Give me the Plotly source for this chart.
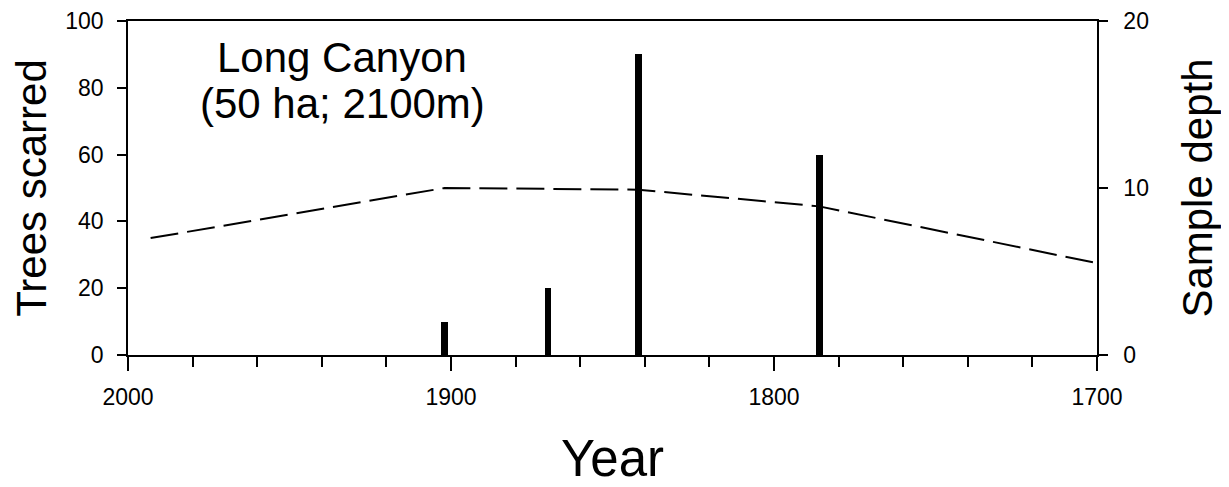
import plotly.graph_objects as go

# Fire-scar data (Trees scarred, %)
fire_years = [1902, 1870, 1842, 1786]
trees_scarred = [10, 20, 90, 60]

# Sample depth (number of trees)
depth_years = [1993, 1902, 1842, 1786, 1700]
sample_depth = [7, 10, 9.9, 8.9, 5.5]

x_major_ticks = [2000, 1900, 1800, 1700]
x_minor_ticks = list(range(1700, 2001, 20))

FONT = "Liberation Sans, Arial, Helvetica, sans-serif"

fig = go.Figure()
fig.add_trace(go.Bar(
    x=fire_years, y=trees_scarred, width=2.1,
    marker=dict(color="black", line=dict(width=0)),
    yaxis="y", showlegend=False,
))
fig.add_trace(go.Scatter(
    x=depth_years, y=sample_depth, mode="lines",
    line=dict(color="black", width=2, dash="28px,9px"),
    yaxis="y2", showlegend=False,
))

fig.add_annotation(text="Long Canyon", xref="paper", yref="paper",
                   x=0.221, y=0.891, showarrow=False,
                   font=dict(family=FONT, size=42, color="black"),
                   xanchor="center", yanchor="middle")
fig.add_annotation(text="(50 ha; 2100m)", xref="paper", yref="paper",
                   x=0.221, y=0.752, showarrow=False,
                   font=dict(family=FONT, size=42, color="black"),
                   xanchor="center", yanchor="middle")

# page body has an 8px margin: margins compensate so the plot area sits
# at x 128..1097, y 21..355 in the window
fig.update_layout(
    width=1229, height=487,
    margin=dict(l=120, r=140, t=13, b=140),
    plot_bgcolor="white", paper_bgcolor="white",
    font=dict(family=FONT, color="black"),
    bargap=0,
    xaxis=dict(
        range=[2000, 1700], tickvals=x_major_ticks, automargin=False,
        ticks="outside", ticklen=14, tickwidth=1.5, tickcolor="black",
        ticklabelstandoff=7,
        minor=dict(tickvals=x_minor_ticks, ticks="outside", ticklen=10,
                   tickwidth=1.5, tickcolor="black"),
        showline=True, linecolor="black", linewidth=1.5, mirror=True,
        showgrid=False, zeroline=False,
        tickfont=dict(size=23),
        title=dict(text="Year", font=dict(size=51), standoff=31),
    ),
    yaxis=dict(
        range=[0, 100], dtick=20, automargin=False,
        ticks="outside", ticklen=9, tickwidth=1.5, tickcolor="black",
        ticklabelstandoff=9,
        showline=True, linecolor="black", linewidth=1.5,
        showgrid=False, zeroline=False,
        tickfont=dict(size=23),
        title=dict(text="Trees scarred", font=dict(size=42), standoff=16),
    ),
    yaxis2=dict(
        range=[0, 20], dtick=10, overlaying="y", side="right", automargin=False,
        ticks="outside", ticklen=9, tickwidth=1.5, tickcolor="black",
        ticklabelstandoff=11,
        showline=True, linecolor="black", linewidth=1.5,
        showgrid=False, zeroline=False,
        tickfont=dict(size=23),
        title=dict(text="Sample depth", font=dict(size=42), standoff=35),
    ),
)

fig.write_html("out.html")
